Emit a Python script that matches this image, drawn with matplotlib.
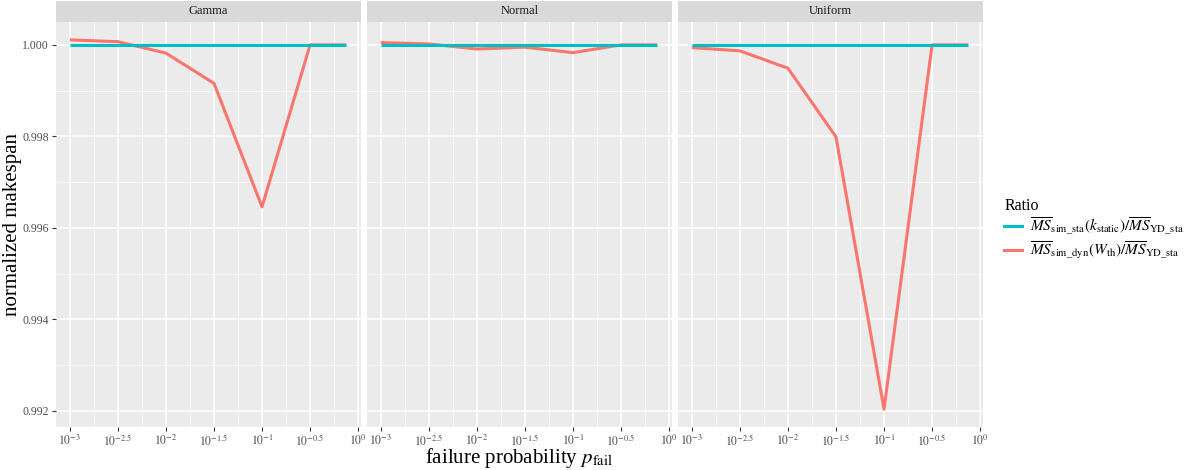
import matplotlib
matplotlib.use("Agg")
import matplotlib.pyplot as plt
from matplotlib.lines import Line2D
import numpy as np

plt.rcParams['font.family'] = ['Liberation Serif', 'DejaVu Serif']
plt.rcParams['mathtext.fontset'] = 'stix'

# data
panels = ["Gamma", "Normal", "Uniform"]
p_fail = [0.001, 10 ** -2.5, 0.01, 10 ** -1.5, 0.1, 10 ** -0.5, 0.75]
ratio_sta = {
    "Gamma":   [1.0, 1.0, 1.0, 1.0, 1.0, 1.0, 1.0],
    "Normal":  [1.0, 1.0, 1.0, 1.0, 1.0, 1.0, 1.0],
    "Uniform": [1.0, 1.0, 1.0, 1.0, 1.0, 1.0, 1.0],
}
ratio_dyn = {
    "Gamma":   [1.00011, 1.00007, 0.99982, 0.99916, 0.99646, 1.0, 1.0],
    "Normal":  [1.00005, 1.00002, 0.99991, 0.99995, 0.99983, 1.0, 1.0],
    "Uniform": [0.99994, 0.99987, 0.99949, 0.99799, 0.99204, 1.0, 1.0],
}
label_sta = r"$\overline{MS}_{\mathrm{sim\_sta}}(k_{\mathrm{static}})/\overline{MS}_{\mathrm{YD\_sta}}$"
label_dyn = r"$\overline{MS}_{\mathrm{sim\_dyn}}(W_{\mathrm{th}})/\overline{MS}_{\mathrm{YD\_sta}}$"
x_breaks = [-3, -2.5, -2, -1.5, -1, -0.5, 0]
y_breaks = [0.992, 0.994, 0.996, 0.998, 1.000]

col_sta = "#00BFC4"
col_dyn = "#F8766D"

W, H = 1192, 470
fig = plt.figure(figsize=(W / 100, H / 100), dpi=100)

lefts = [56, 367, 678]
pw = 305
top, bottom = 22, 427
strip_h = 21

for i, name in enumerate(panels):
    ax = fig.add_axes([lefts[i] / W, (H - bottom) / H, pw / W, (bottom - top) / H])
    ax.set_facecolor("#EBEBEB")
    lx = np.log10(p_fail)
    ax.plot(lx, ratio_dyn[name], color=col_dyn, lw=2.2, solid_capstyle="butt", zorder=3)
    ax.plot(lx, ratio_sta[name], color=col_sta, lw=2.2, solid_capstyle="butt", zorder=4)
    ax.set_xlim(-3.144, 0.03)
    ax.set_ylim(0.99165, 1.0005)
    ax.set_xticks(x_breaks)
    ax.set_xticklabels([r"$10^{%g}$" % b for b in x_breaks], fontsize=8.5, color="#4D4D4D")
    ax.set_xticks([b + 0.25 for b in x_breaks[:-1]], minor=True)
    ax.set_yticks(y_breaks)
    ax.set_yticks([0.993, 0.995, 0.997, 0.999], minor=True)
    if i == 0:
        ax.set_yticklabels(["%.3f" % b for b in y_breaks], fontsize=8.5, color="#4D4D4D")
        ax.tick_params(axis="y", which="major", length=3, color="#333333", pad=2)
    else:
        ax.tick_params(axis="y", which="major", length=0, labelleft=False)
    ax.tick_params(axis="x", which="major", length=3, color="#333333", pad=1.5)
    ax.tick_params(which="minor", length=0)
    ax.grid(True, which="major", color="white", lw=1.1)
    ax.grid(True, which="minor", color="white", lw=0.5)
    ax.set_axisbelow(True)
    for s in ax.spines.values():
        s.set_visible(False)
    # facet strip
    sax = fig.add_axes([lefts[i] / W, (H - top) / H, pw / W, strip_h / H])
    sax.set_facecolor("#D9D9D9")
    sax.set_xticks([])
    sax.set_yticks([])
    for s in sax.spines.values():
        s.set_visible(False)
    sax.text(0.5, 0.5, name, ha="center", va="center", fontsize=9, color="#1A1A1A",
             transform=sax.transAxes)

fig.text(13 / W, (H - 225) / H, "normalized makespan", rotation=90, ha="center", va="center",
         fontsize=15, color="black")
fig.text(519 / W, (H - 458) / H, r"failure probability $p_{\mathrm{fail}}$", ha="center",
         va="center", fontsize=15, color="black")

# legend
handles = [Line2D([], [], color=col_sta, lw=2.2), Line2D([], [], color=col_dyn, lw=2.2)]
leg = fig.legend(handles, [label_sta, label_dyn], title="Ratio", loc="upper left",
                 bbox_to_anchor=(998 / W, (H - 192) / H), frameon=False, fontsize=11,
                 title_fontsize=11.5, handlelength=1.2, handletextpad=0.5, labelspacing=0.1,
                 borderaxespad=0)
leg._legend_box.align = "left"

fig.savefig("out.png", dpi=100)
